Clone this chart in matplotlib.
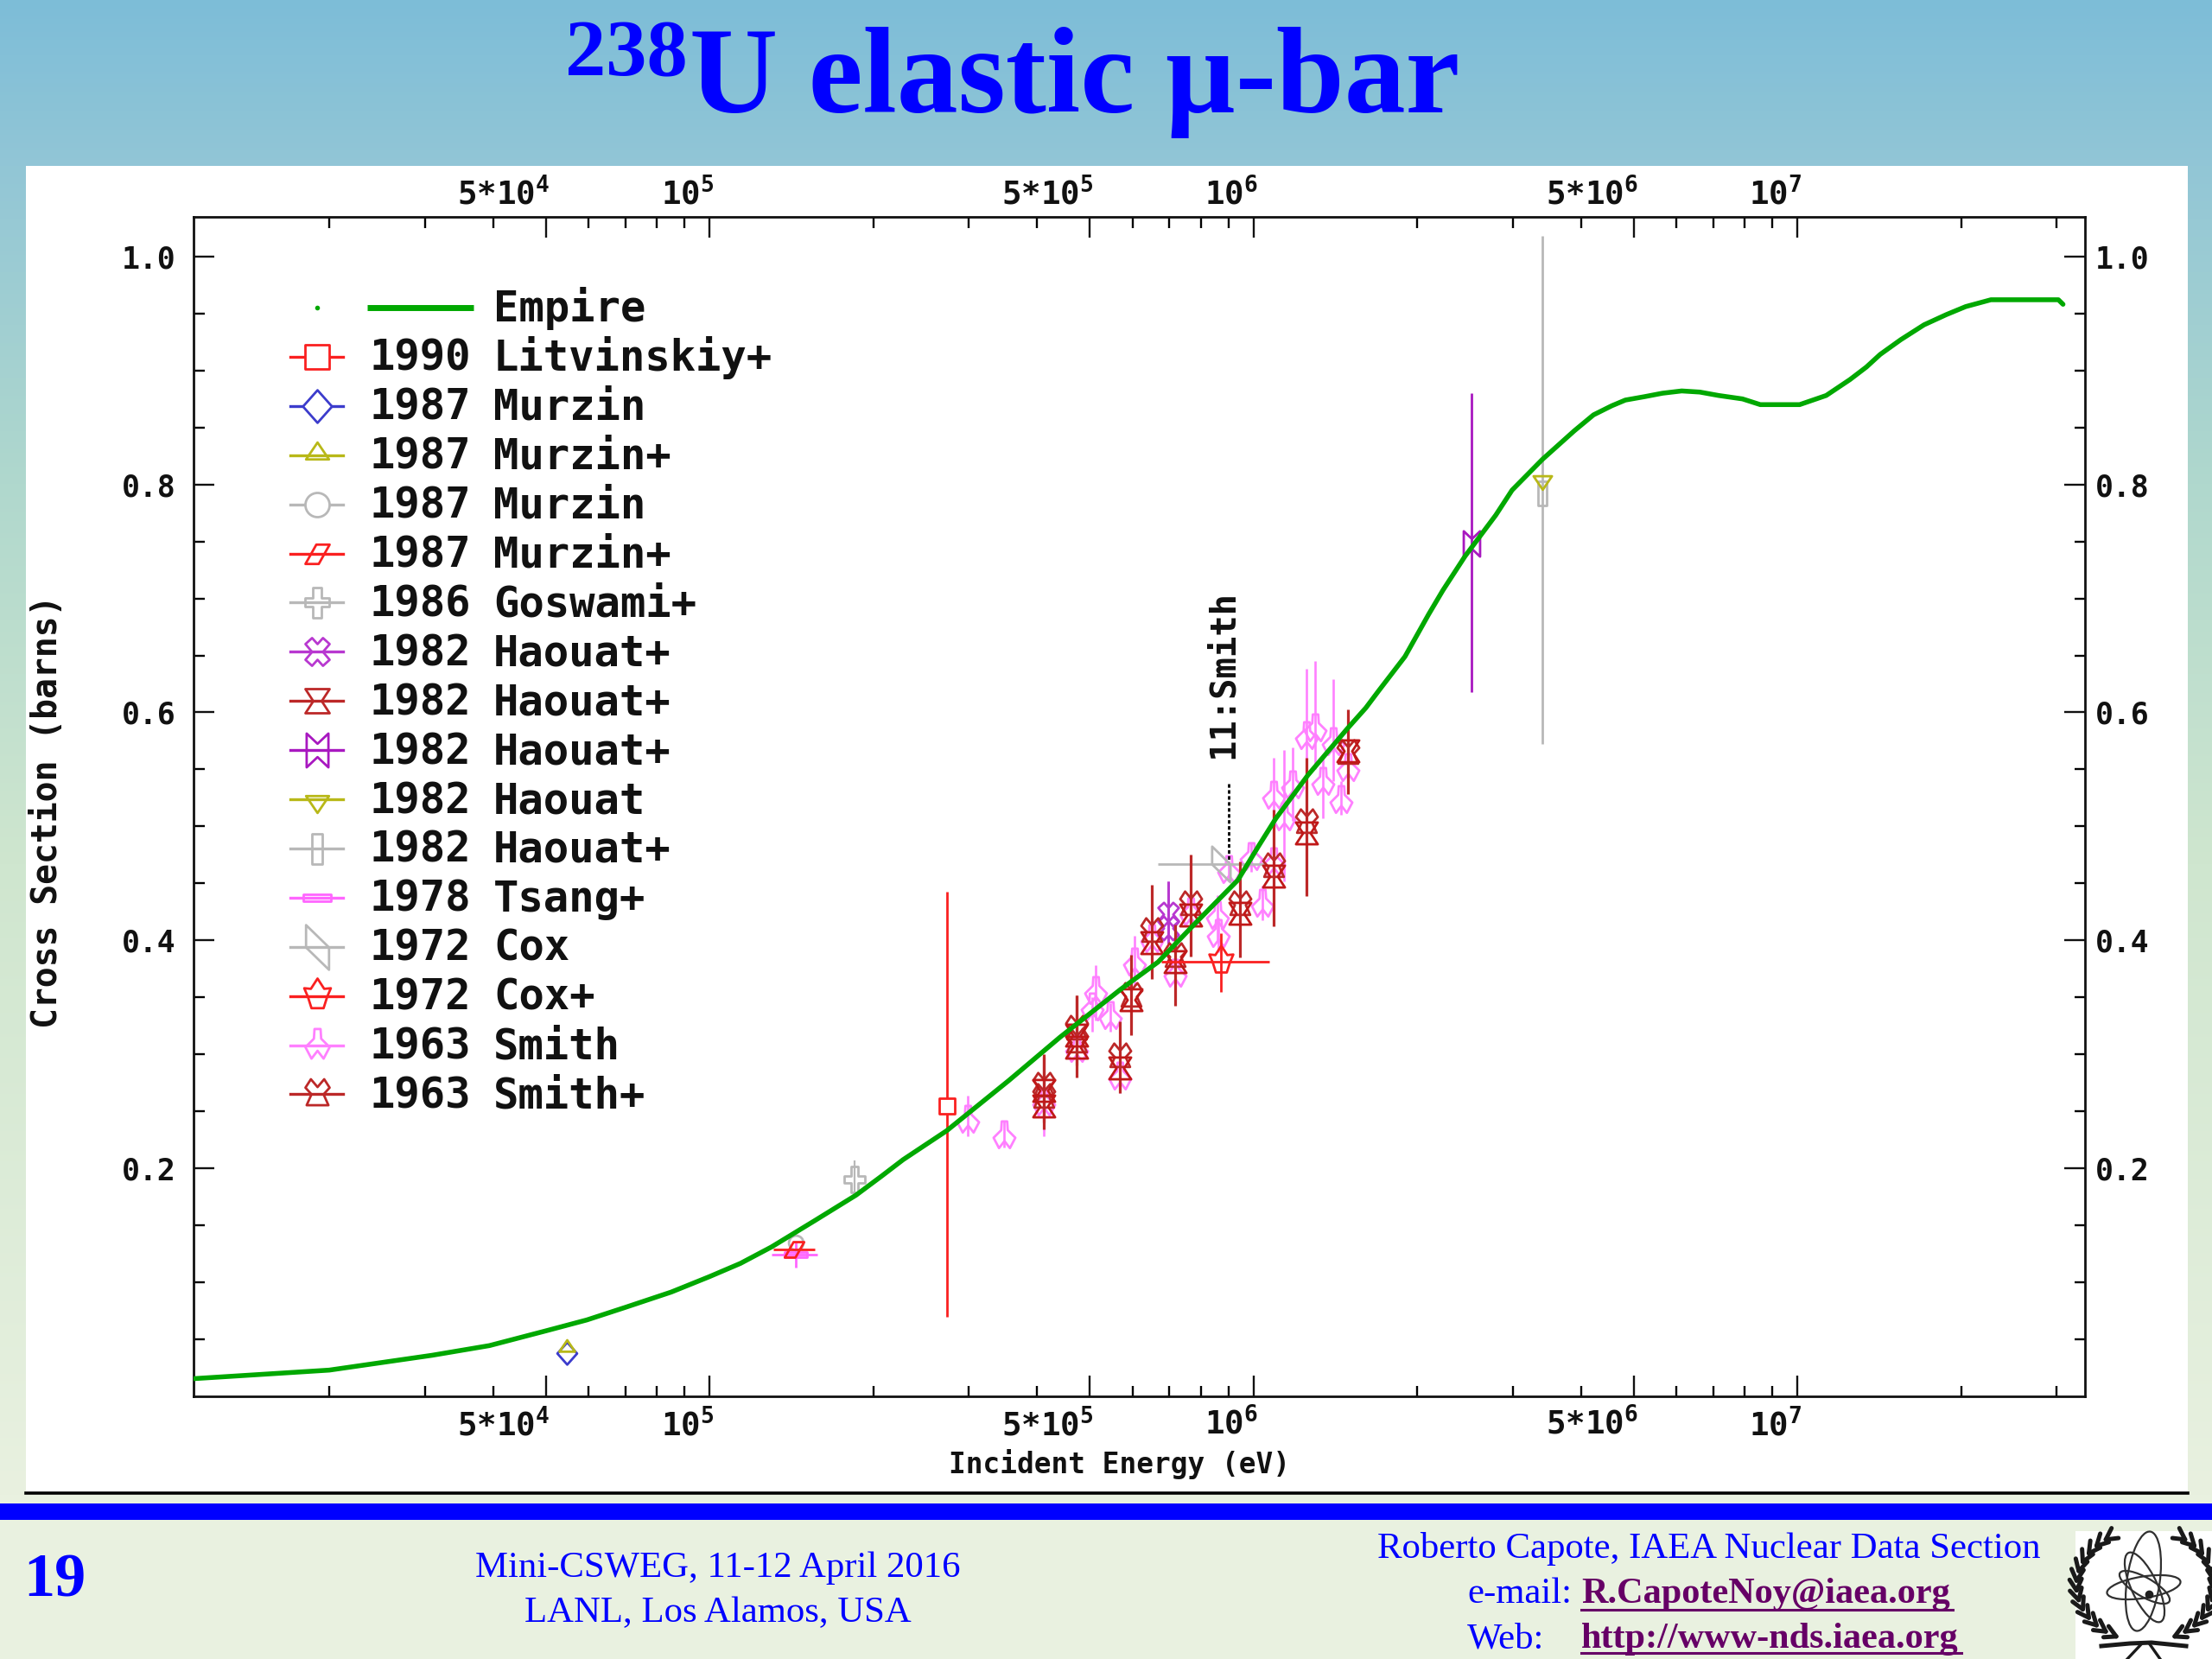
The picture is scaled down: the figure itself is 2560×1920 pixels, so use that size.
import numpy as np
import matplotlib
matplotlib.use("Agg")
import matplotlib.pyplot as plt
from matplotlib.path import Path
from matplotlib.patches import Ellipse, Rectangle
from matplotlib.transforms import ScaledTranslation

W, H = 2560, 1920
DPI = 200
PT = DPI / 72.0  # pixels per point

MONO = "DejaVu Sans Mono"
SERIF = "Liberation Serif"
plt.rcParams["mathtext.default"] = "regular"

# Empire curve
curve_e = [1.126e4, 2e4, 3.09e4, 3.94e4, 5e4, 5.95e4, 7e4, 8.51e4, 1e5, 1.14e5, 1.3e5, 1.56e5, 1.86e5,
           2.07e5, 2.27e5, 2.73e5, 3.55e5, 4.41e5, 5.7e5, 6.68e5, 7.82e5, 9.37e5, 1.02e6, 1.10e6,
           1.26e6, 1.49e6, 1.61e6, 1.70e6, 1.90e6, 2.10e6, 2.23e6, 2.45e6, 2.79e6, 2.99e6, 3.40e6,
           3.89e6, 4.22e6, 4.56e6, 4.83e6, 5.24e6, 5.65e6, 6.13e6, 6.62e6, 7.17e6, 7.93e6, 8.55e6,
           1.01e7, 1.13e7, 1.25e7, 1.34e7, 1.42e7, 1.55e7, 1.71e7, 1.88e7, 2.04e7, 2.27e7, 3.02e7, 3.08e7]
curve_s = [0.0155, 0.023, 0.036, 0.0445, 0.0574, 0.067, 0.078, 0.0915, 0.105, 0.1166, 0.131, 0.154, 0.1765,
           0.193, 0.2076, 0.233, 0.277, 0.315, 0.357, 0.381, 0.415, 0.453, 0.482, 0.507,
           0.545, 0.586, 0.604, 0.619, 0.649, 0.686, 0.707, 0.737, 0.773, 0.795, 0.822,
           0.847, 0.861, 0.869, 0.874, 0.877, 0.880, 0.882, 0.881, 0.878, 0.875, 0.870,
           0.870, 0.878, 0.892, 0.903, 0.914, 0.927, 0.940, 0.949, 0.956, 0.962, 0.962, 0.958]

# experimental sets: energy, sigma, low, high (and energy range where there is one)
litvinskiy_e = [2.73e5]
litvinskiy_s = [0.255]
litvinskiy_lo = [0.07]
litvinskiy_hi = [0.443]

murzin_blue_e = [5.47e4]
murzin_blue_s = [0.038]
murzin_plus_e = [5.47e4]
murzin_plus_s = [0.042]
murzin_grey_e = [1.44e5]
murzin_grey_s = [0.135]
murzin_red_e = [1.43e5]
murzin_red_s = [0.129]
murzin_red_elo = [1.31e5]
murzin_red_ehi = [1.56e5]

goswami_e = [1.85e5]
goswami_s = [0.19]
goswami_lo = [0.179]
goswami_hi = [0.207]

haouat_star_e = [6.98e5, 6.98e5]
haouat_star_s = [0.423, 0.411]
haouat_star_lo = [0.397, 0.397]
haouat_star_hi = [0.452, 0.452]

haouat_glass_e = [4.12e5, 4.12e5, 4.73e5, 4.73e5, 5.69e5, 5.96e5, 6.5e5, 7.18e5, 7.68e5, 9.46e5, 1.09e6, 1.25e6, 1.49e6]
haouat_glass_s = [0.268, 0.255, 0.317, 0.306, 0.288, 0.348, 0.398, 0.381, 0.422, 0.424, 0.456, 0.494, 0.566]
haouat_bow_e = [2.52e6]
haouat_bow_s = [0.748]
haouat_bow_lo = [0.618]
haouat_bow_hi = [0.880]
haouat_down_e = [3.40e6]
haouat_down_s = [0.805]
haouat_bar_e = [3.40e6]
haouat_bar_s = [0.792]
haouat_bar_lo = [0.572]
haouat_bar_hi = [1.018]

tsang_e = [1.44e5]
tsang_s = [0.124]
tsang_elo = [1.30e5]
tsang_ehi = [1.58e5]
tsang_lo = [0.113]
tsang_hi = [0.135]

cox_e = [8.73e5]
cox_s = [0.467]
cox_elo = [6.68e5]
cox_ehi = [1.05e6]
cox_plus_e = [8.73e5]
cox_plus_s = [0.381]
cox_plus_elo = [6.76e5]
cox_plus_ehi = [1.07e6]
cox_plus_lo = [0.355]
cox_plus_hi = [0.406]

smith_e = [2.99e5, 3.48e5, 4.12e5, 4.73e5, 5.12e5, 5.05e5, 5.46e5, 5.69e5, 6.05e5, 6.5e5, 7.18e5,
           7.68e5, 8.58e5, 8.63e5, 9.0e5, 9.9e5, 1.04e6, 1.09e6, 1.09e6, 1.14e6, 1.18e6,
           1.25e6, 1.3e6, 1.34e6, 1.4e6, 1.45e6, 1.49e6]
smith_s = [0.242, 0.228, 0.257, 0.304, 0.355, 0.34, 0.333, 0.28, 0.38, 0.40, 0.37,
           0.424, 0.421, 0.405, 0.461, 0.472, 0.431, 0.468, 0.526, 0.507, 0.535,
           0.578, 0.585, 0.538, 0.573, 0.522, 0.55]
smith_lo = [0.228, 0.218, 0.228, 0.29, 0.33, 0.32, 0.32, 0.266, 0.36, 0.385, 0.355,
            0.405, 0.40, 0.39, 0.452, 0.46, 0.418, 0.45, 0.50, 0.452, 0.505,
            0.54, 0.55, 0.507, 0.54, 0.51, 0.535]
smith_hi = [0.264, 0.242, 0.29, 0.315, 0.378, 0.35, 0.345, 0.295, 0.404, 0.42, 0.385,
            0.44, 0.44, 0.42, 0.47, 0.485, 0.448, 0.48, 0.56, 0.567, 0.569,
            0.638, 0.645, 0.56, 0.629, 0.54, 0.565]

smith_plus_e = [4.12e5, 4.12e5, 4.73e5, 4.73e5, 5.69e5, 5.96e5, 6.5e5, 7.18e5, 7.68e5, 9.46e5, 1.09e6, 1.25e6, 1.49e6]
smith_plus_s = [0.262, 0.272, 0.311, 0.322, 0.298, 0.351, 0.408, 0.386, 0.431, 0.431, 0.465, 0.503, 0.564]
smith_plus_lo = [0.234, 0.24, 0.28, 0.29, 0.266, 0.317, 0.366, 0.343, 0.386, 0.385, 0.412, 0.439, 0.528]
smith_plus_hi = [0.298, 0.30, 0.352, 0.352, 0.329, 0.387, 0.449, 0.414, 0.475, 0.469, 0.515, 0.56, 0.603]

x_major = [5e4, 1e5, 5e5, 1e6, 5e6, 1e7]
x_major_labels = [r"$5{*}10^{4}$", r"$10^{5}$", r"$5{*}10^{5}$", r"$10^{6}$", r"$5{*}10^{6}$", r"$10^{7}$"]
x_minor = [2e4, 3e4, 4e4, 6e4, 7e4, 8e4, 9e4, 2e5, 3e5, 4e5, 6e5, 7e5, 8e5, 9e5,
           2e6, 3e6, 4e6, 6e6, 7e6, 8e6, 9e6, 2e7, 3e7]
y_major = [0.2, 0.4, 0.6, 0.8, 1.0]
y_minor = [0.05, 0.1, 0.15, 0.25, 0.3, 0.35, 0.45, 0.5, 0.55, 0.65, 0.7, 0.75, 0.85, 0.9, 0.95]

# marker outlines, one unit is about 14 px in the legend
SHAPES = {
    "square": [(-1, -1), (1, -1), (1, 1), (-1, 1)],
    "diamond": [(0, 1.35), (1.2, 0), (0, -1.35), (-1.2, 0)],
    "tri_up": [(0, 1.1), (0.95, -0.3), (-0.95, -0.3)],
    "para": [(-1.0, -0.8), (0.1, -0.8), (1.0, 0.8), (-0.1, 0.8)],
    "plus": [(-0.35, 1.25), (0.35, 1.25), (0.35, 0.35), (1.0, 0.35), (1.0, -0.35), (0.35, -0.35),
             (0.35, -1.25), (-0.35, -1.25), (-0.35, -0.35), (-1.0, -0.35), (-1.0, 0.35), (-0.35, 0.35)],
    "star": [(0, 0.65), (0.45, 1.15), (1, 0.65), (0.45, 0), (1, -0.65), (0.45, -1.15), (0, -0.65),
             (-0.45, -1.15), (-1, -0.65), (-0.45, 0), (-1, 0.65), (-0.45, 1.15)],
    "glass": [(-1, 1), (1, 1), (0.35, 0), (1, -1), (-1, -1), (-0.35, 0)],
    "bow": [(-0.9, 1.4), (0, 0.55), (0.9, 1.4), (0.9, -1.4), (0, -0.55), (-0.9, -1.4)],
    "tri_down": [(0, -1.1), (0.95, 0.3), (-0.95, 0.3)],
    "vbar": [(-0.46, 1.25), (0.46, 1.25), (0.46, -1.25), (-0.46, -1.25)],
    "hbar": [(-1.15, 0.3), (1.15, 0.3), (1.15, -0.3), (-1.15, -0.3)],
    "cox": [(-0.95, 1.85), (-0.95, 0), (0.95, -1.85), (0.95, 0)],
    "cox_plus": [(0, 1.5), (0.55, 0.65), (1.1, 0.7), (0.8, 0), (0.5, -0.95), (-0.5, -0.95), (-0.8, 0),
                 (-1.1, 0.7), (-0.55, 0.65)],
    "smith": [(-0.25, 1.4), (0.25, 1.4), (0.3, 0.6), (1, -0.1), (0.5, -1.05), (0, -0.4), (-0.5, -1.05),
              (-1, -0.1), (-0.3, 0.6)],
    "smith_plus": [(0, 0.6), (0.55, 1.25), (1, 0.55), (0.5, 0), (0.9, -0.9), (-0.9, -0.9), (-0.5, 0),
                   (-1, 0.55), (-0.55, 1.25)],
}


def marker_of(name, scale):
    # gives the path and the markersize which keeps 1 unit = 14 px * scale
    if name == "circle":
        return "o", 2 * 14 * scale / PT
    verts = SHAPES[name]
    path = Path(verts + [verts[0]], closed=True)
    size = 2 * max(max(abs(a), abs(b)) for a, b in verts) * 14 * scale / PT
    return path, size


def draw_marker(axis, xs, ys, name, color, fill="none", scale=0.8, **kw):
    m, size = marker_of(name, scale)
    axis.plot(xs, ys, ls="none", marker=m, ms=size, mfc=fill, mec=color, mew=1.0, **kw)


def draw_set(axis, es, ss, name, color, lo=None, hi=None, elo=None, ehi=None, fill="none", lw=1.0, scale=0.8):
    if lo is not None:
        axis.vlines(es, lo, hi, color=color, lw=lw, zorder=3)
    if elo is not None:
        axis.hlines(ss, elo, ehi, color=color, lw=lw, zorder=3)
    draw_marker(axis, es, ss, name, color, fill=fill, scale=scale, zorder=3)


RED = "#fa2020"
BLUE = "#3c3ccc"
OLIVE = "#b8b818"
GREY = "#b8b8b8"
VIOLET = "#b838d0"
BROWN = "#bc2828"
PURPLE = "#a818c0"
PINK = "#ff66ff"
LILAC = "#ff80ff"
GREEN = "#00a800"

fig = plt.figure(figsize=(W / DPI, H / DPI), dpi=DPI)

# slide behind the chart, in pixels of the picture
slide = fig.add_axes([0, 0, 1, 1])
stops_y = [0, 192, 560, 1000, 1730, 1920]
stops_r = [125, 146, 176, 207, 233, 234]
stops_g = [189, 198, 216, 230, 241, 242]
stops_b = [216, 214, 205, 207, 224, 225]
yy = np.arange(H)
grad = np.stack([np.interp(yy, stops_y, stops_r), np.interp(yy, stops_y, stops_g),
                 np.interp(yy, stops_y, stops_b)], axis=1)[:, None, :] / 255.0
slide.imshow(grad, extent=[0, W, H, 0], aspect="auto", interpolation="bilinear", zorder=0)
slide.add_patch(Rectangle((30, 192), 2502, 1535, fc="white", ec="none", zorder=1))
slide.plot([30, 2532], [1728, 1728], color="black", lw=1.3, zorder=2)
slide.add_patch(Rectangle((0, 1740), W, 19, fc="#0000ff", ec="none", zorder=2))
slide.add_patch(Rectangle((2402, 1772), 158, 148, fc="white", ec="none", zorder=2))

# title
slide.text(798, 130, "U elastic \u00b5-bar", color="#0000ff", family=SERIF, weight="bold",
           fontsize=51, va="baseline", ha="left", zorder=3)
slide.text(654, 87, "238", color="#0000ff", family=SERIF, weight="bold",
           fontsize=34, va="baseline", ha="left", zorder=3)

# footer
foot = dict(family=SERIF, va="baseline", color="#0000ff", zorder=3)
slide.text(27, 1848, "19", weight="bold", fontsize=26, **foot)
slide.text(831, 1825, "Mini-CSWEG, 11-12 April 2016", ha="center", fontsize=15.4, **foot)
slide.text(831, 1877, "LANL, Los Alamos, USA", ha="center", fontsize=15.4, **foot)
slide.text(2361, 1803, "Roberto Capote, IAEA Nuclear Data Section", ha="right", fontsize=15.4, **foot)
slide.text(1698, 1855, "e-mail:", fontsize=15.4, **foot)
slide.text(1698, 1907, "Web:", fontsize=15.4, **foot)
link = dict(family=SERIF, va="baseline", color="#660066", weight="bold", fontsize=15.2, zorder=3)
slide.text(1830, 1855, "R.CapoteNoy@iaea.org", **link)
slide.text(1830, 1907, "http://www-nds.iaea.org", **link)
slide.plot([1830, 2260], [1863, 1863], color="#660066", lw=1.1, zorder=3)
slide.plot([1830, 2270], [1913, 1913], color="#660066", lw=1.1, zorder=3)

# logo: atom and laurel wreath
for cx, cy, w, h, ang in [(2480.5, 1830, 38, 116, 8), (2481, 1837, 86, 25, -9),
                          (2482, 1837, 30, 88, -25), (2482, 1837, 66, 22, 30)]:
    slide.add_patch(Ellipse((cx, cy), w, h, angle=ang, fc="none", ec="#303030", lw=0.8, zorder=3))
slide.plot([2487], [1845], marker="o", ms=2.5, color="#202020", zorder=3)
for side in (-1, 1):
    for deg in np.arange(125, 246, 10):
        a = np.radians(deg if side == -1 else 180 - deg)
        px, py = 2483 + 80 * np.cos(a), 1835 - 65 * np.sin(a)
        tx, ty = -side * np.sin(a), -side * np.cos(a)
        nx, ny = np.cos(a), -np.sin(a)
        for s in (-1, 1):
            slide.plot([px, px + 13 * tx + 7 * s * nx], [py, py + 13 * ty + 7 * s * ny],
                       color="#1a1a1a", lw=1.8, solid_capstyle="round", zorder=3)
slide.plot([2432, 2465, 2490, 2530], [1905, 1902, 1901, 1905], color="#1a1a1a", lw=1.8, zorder=3)
slide.plot([2462, 2478], [1920, 1903], color="#1a1a1a", lw=1.2, zorder=3)
slide.plot([2500, 2488], [1920, 1903], color="#1a1a1a", lw=1.2, zorder=3)

slide.set_xlim(0, W)
slide.set_ylim(H, 0)
slide.axis("off")

# the plot itself
ax = fig.add_axes([224 / W, 1 - 1616 / H, (2413 - 224) / W, (1616 - 251) / H])
ax.patch.set_alpha(0)
ax.set_xscale("log")

draw_set(ax, smith_e, smith_s, "smith", LILAC, smith_lo, smith_hi, lw=0.95, scale=0.9)
draw_set(ax, tsang_e, tsang_s, "hbar", PINK, tsang_lo, tsang_hi, tsang_elo, tsang_ehi)
draw_set(ax, haouat_star_e, haouat_star_s, "star", VIOLET, haouat_star_lo, haouat_star_hi, scale=0.85)
draw_set(ax, haouat_bow_e, haouat_bow_s, "bow", PURPLE, haouat_bow_lo, haouat_bow_hi, scale=0.75)
draw_set(ax, haouat_bar_e, haouat_bar_s, "vbar", GREY, haouat_bar_lo, haouat_bar_hi)
draw_set(ax, haouat_down_e, haouat_down_s, "tri_down", OLIVE)
draw_set(ax, cox_e, cox_s, "cox", GREY, elo=cox_elo, ehi=cox_ehi)
draw_set(ax, smith_plus_e, smith_plus_s, "smith_plus", BROWN, smith_plus_lo, smith_plus_hi, lw=1.15, scale=0.9)
draw_set(ax, haouat_glass_e, haouat_glass_s, "glass", "#c01818", scale=0.9)
draw_set(ax, cox_plus_e, cox_plus_s, "cox_plus", RED, cox_plus_lo, cox_plus_hi, cox_plus_elo, cox_plus_ehi, scale=0.9)
draw_set(ax, goswami_e, goswami_s, "plus", GREY, goswami_lo, goswami_hi, lw=0.8, scale=0.88)
draw_set(ax, murzin_grey_e, murzin_grey_s, "circle", GREY, scale=0.6)
draw_set(ax, murzin_red_e, murzin_red_s, "para", RED, elo=murzin_red_elo, ehi=murzin_red_ehi)
draw_set(ax, murzin_blue_e, murzin_blue_s, "diamond", BLUE, scale=0.68)
draw_set(ax, murzin_plus_e, murzin_plus_s, "tri_up", OLIVE, scale=0.68)
draw_set(ax, litvinskiy_e, litvinskiy_s, "square", RED, litvinskiy_lo, litvinskiy_hi, fill="white", scale=0.66)

ax.plot(curve_e, curve_s, color=GREEN, lw=2.0, zorder=4, solid_capstyle="round")

ax.set_xlim(1.126e4, 3.38e7)
ax.set_ylim(0, 1.0347)

ax.set_xticks(x_major, x_major_labels)
ax.set_xticks(x_minor, minor=True)
ax.set_xticklabels(x_major_labels)
ax.xaxis.set_minor_formatter(plt.NullFormatter())
ax.set_yticks(y_major, ["0.2", "0.4", "0.6", "0.8", "1.0"])
ax.set_yticks(y_minor, minor=True)

ax.tick_params(axis="both", which="major", direction="in", length=8.6, width=0.85, top=True, right=True,
               labeltop=True, labelright=True, labelsize=12.5, color="#111111", labelcolor="#111111")
ax.tick_params(axis="both", which="minor", direction="in", length=4.5, width=0.85, top=True, right=True)
ax.tick_params(axis="x", which="major", pad=5.5, labelsize=13.5)
ax.tick_params(axis="y", which="major", pad=7.5)

for tick in ax.xaxis.get_major_ticks():
    tick.label1.set_ha("right")
    tick.label2.set_ha("right")
    tick.label1.set_transform(tick.label1.get_transform() + ScaledTranslation(5 / DPI, 2 / DPI, fig.dpi_scale_trans))
    tick.label2.set_transform(tick.label2.get_transform() + ScaledTranslation(5 / DPI, -9 / DPI, fig.dpi_scale_trans))
    for lab in (tick.label1, tick.label2):
        lab.set_family(MONO)
        lab.set_weight("bold")
for tick in ax.yaxis.get_major_ticks():
    for lab in (tick.label1, tick.label2):
        lab.set_family(MONO)
        lab.set_weight("bold")
    tick.label2.set_transform(tick.label2.get_transform() + ScaledTranslation(-9 / DPI, 0, fig.dpi_scale_trans))

for sp in ax.spines.values():
    sp.set_linewidth(1.0)
    sp.set_color("#111111")

label = dict(family=MONO, weight="bold", color="#111111", transform=slide.transData, clip_on=False)
ax.text(1295, 1695, "Incident Energy (eV)", fontsize=11.8, ha="center", va="center", **label)
ax.text(55, 939, "Cross Section (barns)", fontsize=14.3, rotation=90, ha="center", va="center", **label)
ax.text(1415, 781, "11:Smith", fontsize=14.6, rotation=90, ha="center", va="center", **label)
ax.plot([1422, 1422], [907, 997], color="black", lw=1.0, ls=(0, (1.5, 1)), transform=slide.transData, zorder=5)

# legend, rows spaced as in the picture
legend_rows = [
    ("1990", "Litvinskiy+", "square", RED, "white"),
    ("1987", "Murzin", "diamond", BLUE, "white"),
    ("1987", "Murzin+", "tri_up", OLIVE, "none"),
    ("1987", "Murzin", "circle", GREY, "white"),
    ("1987", "Murzin+", "para", RED, "none"),
    ("1986", "Goswami+", "plus", GREY, "none"),
    ("1982", "Haouat+", "star", VIOLET, "none"),
    ("1982", "Haouat+", "glass", BROWN, "none"),
    ("1982", "Haouat+", "bow", PURPLE, "none"),
    ("1982", "Haouat", "tri_down", OLIVE, "none"),
    ("1982", "Haouat+", "vbar", GREY, "none"),
    ("1978", "Tsang+", "hbar", PINK, "none"),
    ("1972", "Cox", "cox", GREY, "none"),
    ("1972", "Cox+", "cox_plus", RED, "none"),
    ("1963", "Smith", "smith", LILAC, "none"),
    ("1963", "Smith+", "smith_plus", BROWN, "none"),
]
leg = dict(family=MONO, weight="bold", fontsize=17.6, color="#111111", va="baseline",
           transform=slide.transData, clip_on=False)
ROW0, STEP = 356, 56.9
ax.plot([367], [ROW0], marker="o", ms=1.0, color=GREEN, transform=slide.transData)
ax.plot([425, 548], [ROW0, ROW0], color=GREEN, lw=2.5, transform=slide.transData, solid_capstyle="butt")
ax.text(571, ROW0 + 16, "Empire", **leg)
for i, (year, name, shape, color, fill) in enumerate(legend_rows):
    y = ROW0 + (i + 1) * STEP
    ax.plot([336, 397], [y, y], color=color, lw=1.2, transform=slide.transData, clip_on=False)
    draw_marker(ax, [367], [y], shape, color, fill=fill, scale=1.0, transform=slide.transData, clip_on=False)
    ax.text(428, y + 16, year, **leg)
    ax.text(571, y + 16, name, **leg)

ax.set_xlim(1.126e4, 3.38e7)
ax.set_ylim(0, 1.0347)

fig.savefig("out.png", dpi=DPI)
